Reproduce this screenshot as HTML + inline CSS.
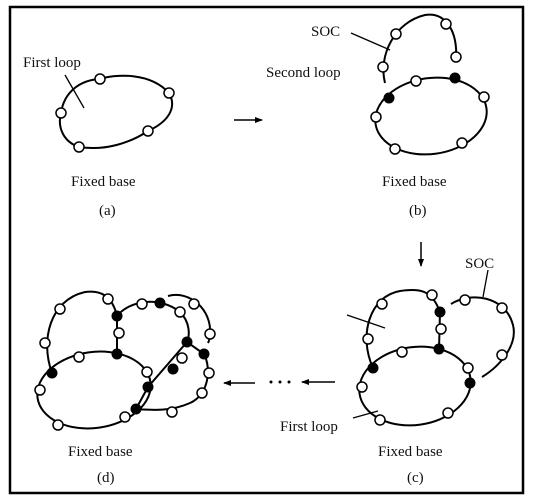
<!DOCTYPE html>
<html><head><meta charset="utf-8"><style>
html,body{margin:0;padding:0;background:#fff;}
svg{display:block;}
text{font-family:"Liberation Serif",serif;font-size:15px;fill:#111;}
</style></head><body>
<svg width="536" height="501" viewBox="0 0 536 501" xmlns="http://www.w3.org/2000/svg">
<rect x="10" y="7" width="513" height="486" fill="none" stroke="#000" stroke-width="2.5"/>
<defs>
<marker id="ah" markerWidth="8" markerHeight="8" refX="7" refY="4" orient="auto" markerUnits="userSpaceOnUse"><path d="M0,1 L8,4 L0,7 Z" fill="#000"/></marker>
</defs>
<g fill="none" stroke="#000" stroke-width="2">
<!-- (a) -->
<path d="M61,113 C64,92 80,80 100,79 C115,74 150,72 169,93 C176,105 172,120 148,131 C130,143 105,151 79,147 C64,142 57,128 61,113 Z"/>
<line x1="65" y1="75" x2="84" y2="108" stroke-width="1.3"/>
<line x1="234" y1="120" x2="262" y2="120" stroke-width="1.5" marker-end="url(#ah)"/>
<!-- (b) -->
<ellipse cx="431" cy="116" rx="56" ry="38" transform="rotate(-8 431 116)"/>
<path d="M385,83 C378,55 395,22 425,15 C445,12 458,30 456,60"/>
<line x1="351" y1="33" x2="390" y2="50" stroke-width="1.3"/>
<line x1="421" y1="242" x2="421" y2="266" stroke-width="1.5" marker-end="url(#ah)"/>
<!-- (c) -->
<ellipse cx="415" cy="386" rx="56" ry="39" transform="rotate(-8 415 386)"/>
<path d="M373,368 C358,335 370,296 400,291 C420,288 432,290 440,312 L439,349"/>
<path d="M451,304 C470,292 505,295 513,325 C518,345 500,366 482,377"/>
<line x1="488" y1="270" x2="483" y2="297" stroke-width="1.3"/>
<line x1="347" y1="315" x2="385" y2="328" stroke-width="1.3"/>
<line x1="353" y1="418" x2="378" y2="411" stroke-width="1.3"/>
<line x1="335" y1="382" x2="302" y2="382" stroke-width="1.5" marker-end="url(#ah)"/>
<!-- (d) -->
<ellipse cx="94" cy="390" rx="57" ry="38" transform="rotate(-8 94 390)"/>
<path d="M52,373 C40,340 50,300 85,292 C100,290 112,295 117,316 L117,354"/>
<path d="M117,316 C130,300 160,296 180,312 C190,322 190,335 187,342 L148,387 L136,409"/>
<path d="M187,342 L204,354 C212,370 208,395 190,403 C170,412 150,410 136,409"/>
<path d="M168,296 C190,290 212,310 210,334 C210,338 209,341 208,343"/>
<line x1="255" y1="383" x2="224" y2="383" stroke-width="1.5" marker-end="url(#ah)"/>
</g>
<g fill="#fff" stroke="#000" stroke-width="1.5">
<circle cx="100" cy="79" r="5"/><circle cx="169" cy="93" r="5"/><circle cx="61" cy="113" r="5"/><circle cx="79" cy="147" r="5"/><circle cx="148" cy="131" r="5"/>
<circle cx="416" cy="81" r="5"/><circle cx="484" cy="97" r="5"/><circle cx="376" cy="117" r="5"/><circle cx="395" cy="149" r="5"/><circle cx="462" cy="143" r="5"/>
<circle cx="383" cy="67" r="5"/><circle cx="396" cy="34" r="5"/><circle cx="446" cy="24" r="5"/><circle cx="456" cy="57" r="5"/>
<circle cx="382" cy="304" r="5"/><circle cx="432" cy="295" r="5"/><circle cx="441" cy="329" r="5"/><circle cx="402" cy="352" r="5"/><circle cx="368" cy="339" r="5"/><circle cx="362" cy="387" r="5"/><circle cx="468" cy="368" r="5"/><circle cx="380" cy="420" r="5"/><circle cx="448" cy="413" r="5"/>
<circle cx="465" cy="300" r="5"/><circle cx="502" cy="308" r="5"/><circle cx="502" cy="355" r="5"/>
<circle cx="60" cy="309" r="5"/><circle cx="108" cy="299" r="5"/><circle cx="119" cy="333" r="5"/><circle cx="79" cy="357" r="5"/><circle cx="45" cy="343" r="5"/><circle cx="40" cy="390" r="5"/><circle cx="58" cy="425" r="5"/><circle cx="125" cy="417" r="5"/><circle cx="147" cy="372" r="5"/><circle cx="182" cy="358" r="5"/><circle cx="180" cy="312" r="5"/><circle cx="142" cy="304" r="5"/><circle cx="209" cy="373" r="5"/><circle cx="202" cy="393" r="5"/><circle cx="172" cy="412" r="5"/><circle cx="194" cy="304" r="5"/><circle cx="210" cy="334" r="5"/>
</g>
<g fill="#000" stroke="#000" stroke-width="1">
<circle cx="389" cy="98" r="5"/><circle cx="455" cy="78" r="5"/>
<circle cx="440" cy="312" r="5"/><circle cx="439" cy="349" r="5"/><circle cx="373" cy="368" r="5"/><circle cx="470" cy="383" r="5"/>
<circle cx="117" cy="316" r="5"/><circle cx="117" cy="354" r="5"/><circle cx="52" cy="373" r="5"/><circle cx="136" cy="409" r="5"/><circle cx="148" cy="387" r="5"/><circle cx="173" cy="369" r="5"/><circle cx="187" cy="342" r="5"/><circle cx="160" cy="303" r="5"/><circle cx="204" cy="354" r="5"/>
</g>
<g fill="#000"><circle cx="271" cy="382" r="1.5"/><circle cx="280" cy="382" r="1.5"/><circle cx="289" cy="382" r="1.5"/></g>
<text x="23" y="67">First loop</text>
<text x="71" y="186">Fixed base</text>
<text x="99" y="215">(a)</text>
<text x="311" y="36">SOC</text>
<text x="266" y="77">Second loop</text>
<text x="382" y="186">Fixed base</text>
<text x="409" y="215">(b)</text>
<text x="465" y="268">SOC</text>
<text x="280" y="431">First loop</text>
<text x="378" y="456">Fixed base</text>
<text x="407" y="482">(c)</text>
<text x="68" y="456">Fixed base</text>
<text x="97" y="482">(d)</text>
</svg>
</body></html>
